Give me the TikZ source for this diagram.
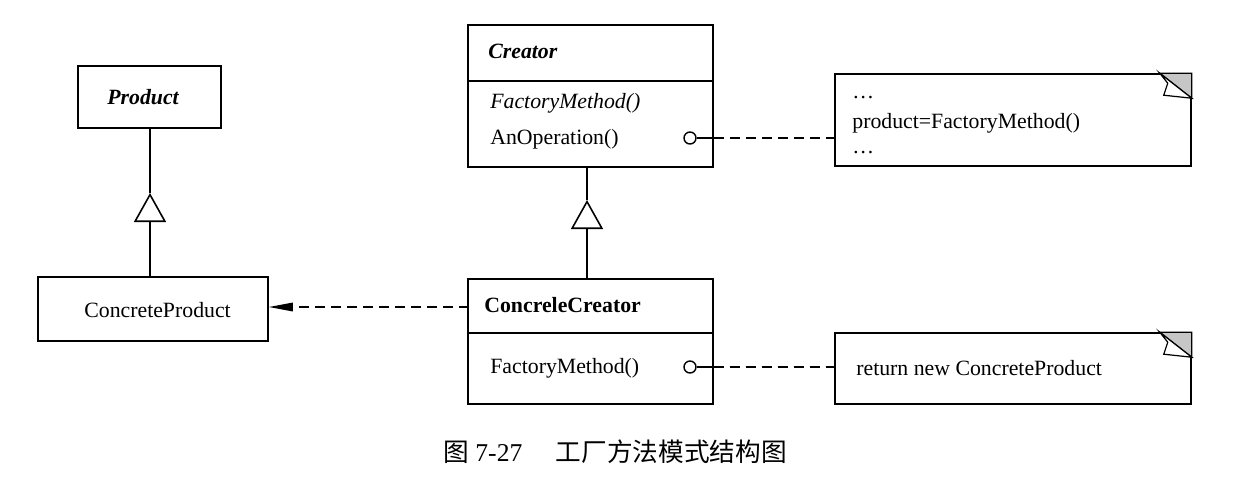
\documentclass[tikz,border=0pt]{standalone}
\usepackage{fontspec}
\setmainfont{Liberation Serif}
\newfontfamily\cjk{Noto Sans CJK SC}
\usepackage{tikz}
\usetikzlibrary{arrows.meta,positioning}

\tikzset{
	cls/.style	= {draw, line width=0.9pt, inner sep=0pt},
	note/.style	= {draw, line width=0.9pt, inner sep=0pt, minimum width=7.12cm},
	txt/.style	= {anchor=west, inner sep=0pt},
	port/.style	= {draw, circle, line width=0.8pt, inner sep=0pt, minimum size=0.24cm, fill=white},
	inherit/.style	= {line width=0.9pt, -{Triangle[open, length=0.58cm, width=0.64cm]}},
	dep/.style	= {line width=0.9pt, dash pattern=on 0.2cm off 0.12cm},
}

\begin{document}
\begin{tikzpicture}[x=0.02cm, y=-0.02cm, font=\fontsize{12.4}{15}\selectfont]
	\useasboundingbox (0,0) rectangle (1241,478);

	\node	(Product)	[cls, minimum width=2.86cm, minimum height=1.24cm]	at (149.5,97)	{};
	\node	(ConcreteProduct)	[cls, minimum width=4.6cm, minimum height=1.28cm]	at (153,309)	{};
	\node	(CreatorHead)	[cls, minimum width=4.9cm, minimum height=1.12cm]	at (590.5,53)	{};
	\node	(CreatorOps)	[cls, minimum width=4.9cm, minimum height=1.72cm]	at (590.5,124)	{};
	\node	(CCreatorHead)	[cls, minimum width=4.9cm, minimum height=1.08cm]	at (590.5,306)	{};
	\node	(CCreatorOps)	[cls, minimum width=4.9cm, minimum height=1.42cm]	at (590.5,368.5)	{};
	\node	(note1)	[note, minimum height=1.84cm]	at (1013,120)	{};
	\node	(note2)	[note, minimum height=1.42cm]	at (1013,368.5)	{};

	\node	(tProduct)	[txt]	at (107,97)	{\bfseries\itshape Product};
	\node	(tCProduct)	[txt]	at (84,310)	{ConcreteProduct};
	\node	(tCreator)	[txt]	at (488,51)	{\bfseries\itshape Creator};
	\node	(tFactory1)	[txt]	at (490,103)	{\itshape FactoryMethod()};
	\node	(tOperation)	[txt]	at (490,139)	{AnOperation()};
	\node	(tCCreator)	[txt]	at (484,305)	{\bfseries ConcreleCreator};
	\node	(tFactory2)	[txt]	at (490,368)	{FactoryMethod()};
	\node	(tDots1)	[txt]	at (852,98)	{\dots};
	\node	(tProdLine)	[txt]	at (852,123)	{product=FactoryMethod()};
	\node	(tDots2)	[txt]	at (852,153)	{\dots};
	\node	(tReturn)	[txt]	at (856,368)	{return new ConcreteProduct};

	\foreach \n in {note1, note2} {
		\draw [line width=0.7pt, fill=gray!45] ([xshift=-0.64cm]\n.north east) -- (\n.north east) -- ([yshift=-0.5cm]\n.north east) -- cycle;
		\draw [line width=0.7pt, fill=white] ([xshift=-0.64cm]\n.north east) -- ([xshift=-0.48cm, yshift=-0.2cm]\n.north east)
			-- ([xshift=-0.56cm, yshift=-0.44cm]\n.north east) -- ([yshift=-0.5cm]\n.north east) -- cycle;
	}

	\coordinate	(triP)	at (150,193);
	\coordinate	(triC)	at (587,200);
	\draw [inherit] (triP |- ConcreteProduct.north) -- (triP);
	\draw [line width=0.9pt] (triP) -- (triP |- Product.south);
	\draw [inherit] (triC |- CCreatorHead.north) -- (triC);
	\draw [line width=0.9pt] (triC) -- (triC |- CreatorOps.south);

	\node	(port1)	[port]	at (690,138)	{};
	\node	(port2)	[port]	at (690,367)	{};
	\draw [line width=0.9pt] (port1) -- (port1 -| CreatorOps.east);
	\draw [line width=0.9pt] (port2) -- (port2 -| CCreatorOps.east);
	\draw [dep] (port1 -| CreatorOps.east) -- (port1 -| note1.west);
	\draw [dep] (port2 -| CCreatorOps.east) -- (port2 -| note2.west);

	\coordinate	(depStart)	at (469,307);
	\draw [dep, -{Triangle[length=0.48cm, width=0.17cm]}] (depStart) -- (depStart -| ConcreteProduct.east);

	\node	(caption)	at (615,452)	{\fontsize{14.6}{17}\selectfont{\cjk 图}\ 7-27\hspace{1.3em}{\cjk 工厂方法模式结构图}};
\end{tikzpicture}
\end{document}
